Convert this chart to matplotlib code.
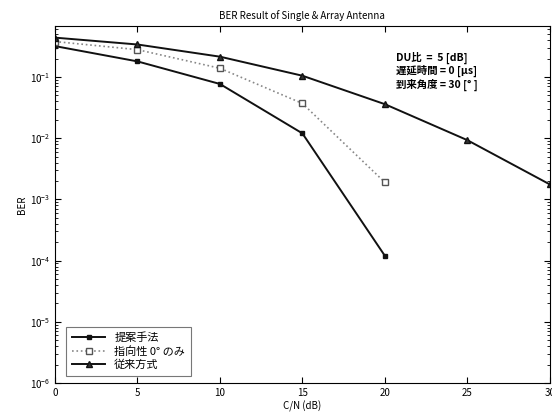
import matplotlib
matplotlib.use("Agg")
import matplotlib.pyplot as plt
from matplotlib.ticker import LogLocator, NullFormatter

plt.rcParams['font.family'] = ['Noto Sans CJK JP', 'DejaVu Sans']

cn_short = [0, 5, 10, 15, 20]
cn_long = [0, 5, 10, 15, 20, 25, 30]
ber_proposed = [0.32, 0.18, 0.077, 0.012, 1.2e-4]
ber_directional = [0.38, 0.28, 0.139, 0.037, 0.0019]
ber_conventional = [0.44, 0.34, 0.215, 0.105, 0.036, 0.0093, 0.00176]
labels = ['提案手法', '指向性 0° のみ', '従来方式']
title = 'BER Result of Single & Array Antenna'
notes = ['DU比  =  5 [dB]', '遅延時間 = 0 [μs]', '到来角度 = 30 [° ]']

fig = plt.figure(figsize=(5.52, 4.18), dpi=100)
ax = fig.add_axes([0.0996, 0.0837, 0.8964, 0.8543])

ax.semilogy(cn_short, ber_proposed, color='#111111', lw=1.4, marker='s', ms=3,
            mfc='#111111', mec='#111111', label=labels[0])
ax.semilogy(cn_short, ber_directional, color='#888888', lw=1.2, ls=':', marker='s',
            ms=4.5, mfc='white', mec='#555555', label=labels[1])
ax.semilogy(cn_long, ber_conventional, color='#111111', lw=1.4, marker='^', ms=5,
            mfc='#333333', mec='#111111', label=labels[2])

ax.set_xlim(0, 30)
ax.set_ylim(1e-6, 10 ** -0.165)
ax.set_xticks([0, 5, 10, 15, 20, 25, 30])
ax.yaxis.set_major_locator(LogLocator(base=10, numticks=10))
ax.yaxis.set_minor_locator(LogLocator(base=10, subs=range(2, 10), numticks=10))
ax.yaxis.set_minor_formatter(NullFormatter())
ax.set_yticks([1e-6, 1e-5, 1e-4, 1e-3, 1e-2, 1e-1])
ax.tick_params(which='both', direction='in', top=True, right=True, labelsize=7)
ax.tick_params(which='major', length=4)
ax.tick_params(which='minor', length=2)

ax.set_title(title, fontsize=7, pad=5)
ax.set_xlabel('C/N (dB)', fontsize=7, labelpad=2)
ax.set_ylabel('BER', fontsize=7, labelpad=2)

for i, t in enumerate(notes):
    ax.text(0.69, 0.91 - i * 0.037, t, transform=ax.transAxes, fontsize=7.5,
            va='center', ha='left', fontweight='bold')

leg = ax.legend(loc='lower left', fontsize=8, frameon=True, fancybox=False,
                edgecolor='#555555', borderpad=0.5, labelspacing=0.25,
                handlelength=3.0, bbox_to_anchor=(0.012, 0.005))
leg.get_frame().set_linewidth(0.8)

for s in ax.spines.values():
    s.set_linewidth(0.8)

fig.savefig('out.png', dpi=100)
